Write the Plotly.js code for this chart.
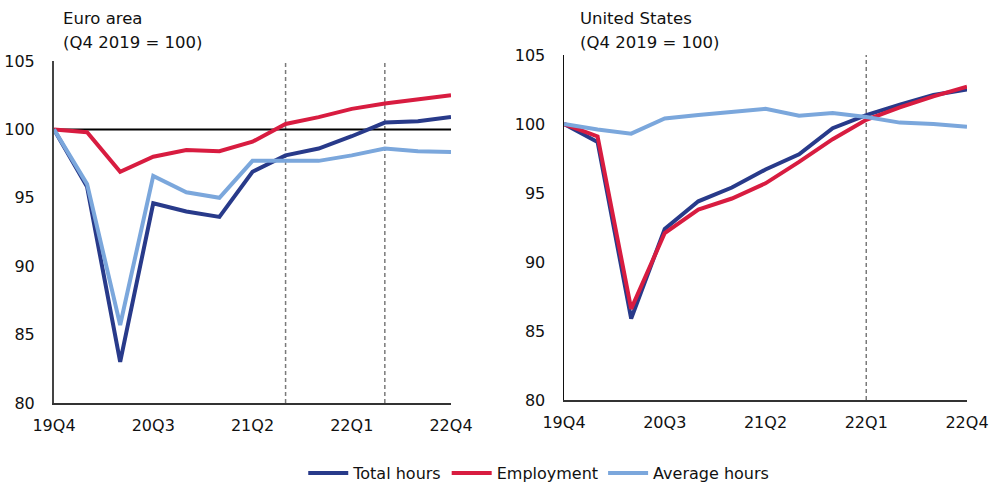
<!DOCTYPE html>
<html>
<head>
<meta charset="utf-8">
<script src="https://cdn.plot.ly/plotly-3.0.1.min.js"></script>
<style>html,body{margin:0;padding:0;background:#fff}#chart{width:994px;height:485px}</style>
</head>
<body>
<div id="chart"></div>
<script>
var quarters = ["19Q4","20Q1","20Q2","20Q3","20Q4","21Q1","21Q2","21Q3","21Q4","22Q1","22Q2","22Q3","22Q4"];
var tickLabels = ["19Q4","20Q3","21Q2","22Q1","22Q4"];

var euTotalHours = [100, 95.8, 83.0, 94.6, 94.0, 93.6, 96.9, 98.1, 98.6, 99.5, 100.5, 100.6, 100.9];
var euEmployment = [100, 99.8, 96.9, 98.0, 98.5, 98.4, 99.1, 100.4, 100.9, 101.5, 101.9, 102.2, 102.5];
var euAverageHours = [100, 96.0, 85.7, 96.6, 95.4, 95.0, 97.7, 97.7, 97.7, 98.1, 98.6, 98.4, 98.35];

var usTotalHours = [100, 98.7, 85.9, 92.4, 94.4, 95.4, 96.7, 97.8, 99.7, 100.65, 101.4, 102.1, 102.5];
var usEmployment = [100, 99.1, 86.6, 92.1, 93.8, 94.6, 95.7, 97.25, 98.9, 100.3, 101.2, 102.0, 102.7];
var usAverageHours = [100, 99.6, 99.3, 100.4, 100.65, 100.9, 101.1, 100.6, 100.8, 100.5, 100.1, 100.0, 99.8];

var euDashed = ["21Q3", "22Q2"];
var usDashed = ["22Q1"];

var seriesNames = ["Total hours", "Employment", "Average hours"];
var colors = ["#283a8a", "#d81c40", "#7ba7dc"];

var font = "DejaVu Sans, sans-serif";

function tr(y, i, xa, ya, show, rank) {
  return {x: quarters, y: y, xaxis: xa, yaxis: ya, type: "scatter", mode: "lines",
    name: seriesNames[i], showlegend: show, legendrank: rank, line: {color: colors[i], width: 4}, hoverinfo: "skip"};
}

var data = [
  tr(euEmployment, 1, "x", "y", true, 2),
  tr(euTotalHours, 0, "x", "y", true, 1),
  tr(euAverageHours, 2, "x", "y", true, 3),
  tr(usTotalHours, 0, "x2", "y2", false),
  tr(usEmployment, 1, "x2", "y2", false),
  tr(usAverageHours, 2, "x2", "y2", false)
];

var shapes = [];
euDashed.forEach(function(q){
  shapes.push({type:"line", xref:"x", yref:"y", x0:q, x1:q, y0:80, y1:105, line:{color:"#7a7a7a", width:1.5, dash:"4px,3px"}, layer:"below"});
});
usDashed.forEach(function(q){
  shapes.push({type:"line", xref:"x2", yref:"y2", x0:q, x1:q, y0:80, y1:105, line:{color:"#7a7a7a", width:1.5, dash:"4px,3px"}, layer:"below"});
});
shapes.push({type:"line", xref:"x", yref:"y", x0:quarters[0], x1:quarters[12], y0:100, y1:100, line:{color:"#000", width:2}, layer:"below"});

function xax(dom, anchor) {
  return {domain: dom, anchor: anchor, type: "category", range: [0, 12], tickvals: tickLabels, ticktext: tickLabels,
    showgrid: false, zeroline: false, showline: true, linecolor: "#333", linewidth: 2, ticks: "",
    ticklabelstandoff: 7, tickfont: {size: 16, color: "#111", family: font}, fixedrange: true};
}
function yax(dom, anchor, lw, lc) {
  return {domain: dom, anchor: anchor, range: [80, 105], tickvals: [80,85,90,95,100,105],
    showgrid: false, zeroline: false, showline: true, linecolor: lc, linewidth: lw, ticks: "",
    ticklabelstandoff: 14, tickfont: {size: 16, color: "#111", family: font}, fixedrange: true};
}

var layout = {
  width: 994, height: 485,
  margin: {l: 0, r: 0, t: 0, b: 0, autoexpand: false},
  paper_bgcolor: "#fff", plot_bgcolor: "#fff",
  font: {family: font, size: 16, color: "#111"},
  xaxis: xax([54/994, 451/994], "y"),
  yaxis: yax([82/485, 424/485], "x", 2, "#444"),
  xaxis2: xax([564/994, 967/994], "y2"),
  yaxis2: yax([85/485, 430/485], "x2", 1.5, "#111"),
  shapes: shapes,
  showlegend: true,
  legend: {orientation: "h", x: 0.542, xanchor: "center", y: 29/485, yanchor: "top",
    font: {size: 16, family: font, color: "#111"}, itemwidth: 40, tracegroupgap: 0, traceorder: "normal"},
  annotations: [
    {text: "Euro area", xref: "paper", yref: "paper", x: 61/994, y: 1 - 19/485, xanchor: "left", yanchor: "middle", showarrow: false, font: {size: 16.5}},
    {text: "(Q4 2019 = 100)", xref: "paper", yref: "paper", x: 61/994, y: 1 - 42/485, xanchor: "left", yanchor: "middle", showarrow: false, font: {size: 16.5}},
    {text: "United States", xref: "paper", yref: "paper", x: 578/994, y: 1 - 19/485, xanchor: "left", yanchor: "middle", showarrow: false, font: {size: 16.5}},
    {text: "(Q4 2019 = 100)", xref: "paper", yref: "paper", x: 578/994, y: 1 - 42/485, xanchor: "left", yanchor: "middle", showarrow: false, font: {size: 16.5}}
  ]
};

Plotly.newPlot("chart", data, layout, {staticPlot: true, displayModeBar: false});
</script>
</body>
</html>
